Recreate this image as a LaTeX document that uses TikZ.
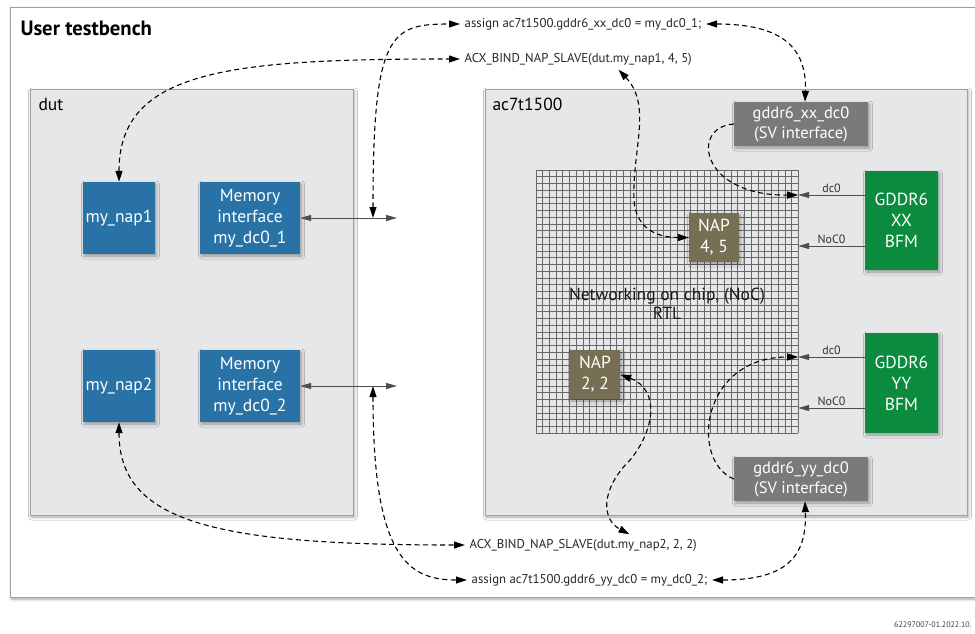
\documentclass[tikz,border=0pt]{standalone}
\usepackage{fontspec}
\setmainfont{PT Sans}
\usetikzlibrary{arrows.meta,calc,shadows.blur}
\definecolor{napblue}{RGB}{41,114,166}
\definecolor{napolive}{RGB}{119,111,84}
\definecolor{svgray}{RGB}{122,122,122}
\definecolor{bfmgreen}{RGB}{10,139,62}
\definecolor{panelgray}{RGB}{230,231,233}
\definecolor{panelline}{RGB}{160,160,160}
\definecolor{busgray}{RGB}{77,77,77}
\definecolor{gridgray}{RGB}{105,105,105}

\begin{document}
\begin{tikzpicture}[x=1pt, y=-1pt,
    every node/.style={font=\fontsize{17.5}{21}\selectfont},
    soft/.style={blur shadow={shadow xshift=1.5pt, shadow yshift=-2pt,
        shadow blur radius=3pt, shadow opacity=35}},
    panel/.style={draw=panelline, fill=panelgray, line width=0.8pt, soft},
    blk/.style={fill=#1, text=white, align=center, inner sep=0pt, soft},
    code/.style={font=\fontsize{12.8}{15}\selectfont, text=black!85, inner sep=4.5pt},
    small/.style={font=\fontsize{12}{14}\selectfont, text=black!80, inner sep=2pt},
    bus/.style={busgray, line width=1pt, {Triangle[length=11pt,width=6pt]}-{Triangle[length=11pt,width=6pt]}},
    feed/.style={busgray, line width=1pt, -{Triangle[length=11pt,width=6pt]}},
    link/.style={black, line width=1.1pt, dash pattern=on 5pt off 3.5pt,
        {Triangle[length=11pt,width=7pt]}-{Triangle[length=11pt,width=7pt]}},
    halflink/.style={black, line width=1.1pt, dash pattern=on 5pt off 3.5pt,
        -{Triangle[length=11pt,width=7pt]}}]
  \useasboundingbox (0,0) rectangle (975,633);

  % testbench and the two panels
  \draw[draw=panelline, fill=white, line width=0.8pt, soft] (10,7) rectangle (1010,597);
  \node[anchor=west, font=\fontsize{20.7}{24}\bfseries] (tb) at (17,28) {User testbench};
  \draw[panel] (30,89) rectangle (353,515);
  \draw[panel] (485,89) rectangle (967,515);
  \node[anchor=west] (dut) at (35,104) {dut};
  \node[anchor=west] (chip) at (489,104) {ac7t1500};

  % dut blocks
  \node[blk=napblue, minimum width=72pt, minimum height=72pt] (nap1) at (119,218) {my\_nap1};
  \node[blk=napblue, minimum width=100pt, minimum height=72pt] (mem1) at (250,218) {Memory\\interface\\my\_dc0\_1};
  \node[blk=napblue, minimum width=72pt, minimum height=72pt] (nap2) at (119,386) {my\_nap2};
  \node[blk=napblue, minimum width=100pt, minimum height=72pt] (mem2) at (250,386) {Memory\\interface\\my\_dc0\_2};
  \coordinate (j1) at (373,218);
  \coordinate (j1e) at (397,218);
  \coordinate (j2) at (373,386);
  \coordinate (j2e) at (397,386);
  \draw[bus] (mem1.east) -- (j1e);
  \draw[bus] (mem2.east) -- (j2e);

  % NoC grid
  \node[minimum width=262pt, minimum height=263pt, inner sep=0pt] (noc) at (667,301.5) {};
  \foreach \i in {0,...,39} {
    \draw[gridgray, line width=0.5pt] ($(noc.north west)!\i/39!(noc.north east)$) -- ($(noc.south west)!\i/39!(noc.south east)$);
    \draw[gridgray, line width=0.5pt] ($(noc.north west)!\i/39!(noc.south west)$) -- ($(noc.north east)!\i/39!(noc.south east)$);
  }
  \node[align=center, text=black!90, font=\fontsize{17.5}{19}\selectfont] (noctxt) at (667,304) {Networking on chip, (NoC)\\RTL};

  % chip blocks
  \node[blk=napolive, minimum width=50pt, minimum height=49pt] (nap45) at (714,237.5) {NAP\\4, 5};
  \node[blk=napolive, minimum width=50pt, minimum height=49pt] (nap22) at (595,374.5) {NAP\\2, 2};
  \node[blk=svgray, minimum width=134pt, minimum height=44pt, font=\fontsize{16.5}{20}\selectfont] (svxx) at (801,124) {gddr6\_xx\_dc0\\(SV interface)};
  \node[blk=svgray, minimum width=134pt, minimum height=44pt, font=\fontsize{16.5}{20}\selectfont] (svyy) at (801,479) {gddr6\_yy\_dc0\\(SV interface)};
  \node[blk=bfmgreen, minimum width=73pt, minimum height=99pt] (bfmxx) at (901.5,220.5) {GDDR6\\XX\\BFM};
  \node[blk=bfmgreen, minimum width=73pt, minimum height=100pt] (bfmyy) at (901.5,383) {GDDR6\\YY\\BFM};

  \draw[feed] ([yshift=25.5pt]bfmxx.west) -- ([yshift=25.5pt]bfmxx.west -| noc.east) node[small, midway, above] {dc0};
  \draw[feed] ([yshift=-25.5pt]bfmxx.west) -- ([yshift=-25.5pt]bfmxx.west -| noc.east) node[small, midway, above] {NoC0};
  \draw[feed] ([yshift=26pt]bfmyy.west) -- ([yshift=26pt]bfmyy.west -| noc.east) node[small, midway, above] {dc0};
  \draw[feed] ([yshift=-25pt]bfmyy.west) -- ([yshift=-25pt]bfmyy.west -| noc.east) node[small, midway, above] {NoC0};

  % code lines
  \node[code, anchor=west] (asgxx) at (460,24) {assign ac7t1500.gddr6\_xx\_dc0 = my\_dc0\_1;};
  \node[code, anchor=west] (bind1) at (460,59) {ACX\_BIND\_NAP\_SLAVE(dut.my\_nap1, 4, 5)};
  \node[code, anchor=west] (bind2) at (465,545) {ACX\_BIND\_NAP\_SLAVE(dut.my\_nap2, 2, 2)};
  \node[code, anchor=west] (asgyy) at (467,580) {assign ac7t1500.gddr6\_yy\_dc0 = my\_dc0\_2;};
  \node[anchor=east, font=\fontsize{8}{9}\selectfont, text=black!75] (docid) at (975,625) {62297007-01.2022.10.};

  % dashed bindings
  \draw[link] (nap1.north) .. controls +(0,-112) and +(-230,0) .. (bind1.west);
  \draw[link] (j1) .. controls +(0,-185) and +(-70,0) .. (asgxx.west);
  \draw[link] (asgxx.east) .. controls +(75,0) and +(2,-55) .. ([xshift=4pt]svxx.north);
  \draw[link] ([xshift=-78pt]bind1.south east) .. controls +(34,36) and +(-2,-50) .. (634,200)
    .. controls +(2,30) and +(-30,0) .. (nap45.west);
  \draw[halflink] (svxx.west) .. controls +(-44,3) and +(-98,1) .. ([yshift=25.5pt]bfmxx.west -| noc.east);
  \draw[halflink] (svyy.west) .. controls +(-44,-18) and +(-98,0) .. ([yshift=26pt]bfmyy.west -| noc.east);
  \draw[link] (asgyy.east) .. controls +(75,0) and +(2,55) .. ([xshift=4pt]svyy.south);
  \draw[link] (nap22.east) .. controls +(40,15) and +(25,-30) .. (630,460)
    .. controls +(-30,30) and +(-28,-15) .. ([xshift=-72pt]bind2.north east);
  \draw[link] (nap2.south) .. controls +(0,100) and +(-250,0) .. (bind2.west);
  \draw[link] (j2) .. controls +(0,170) and +(-60,0) .. (asgyy.west);
\end{tikzpicture}
\end{document}
